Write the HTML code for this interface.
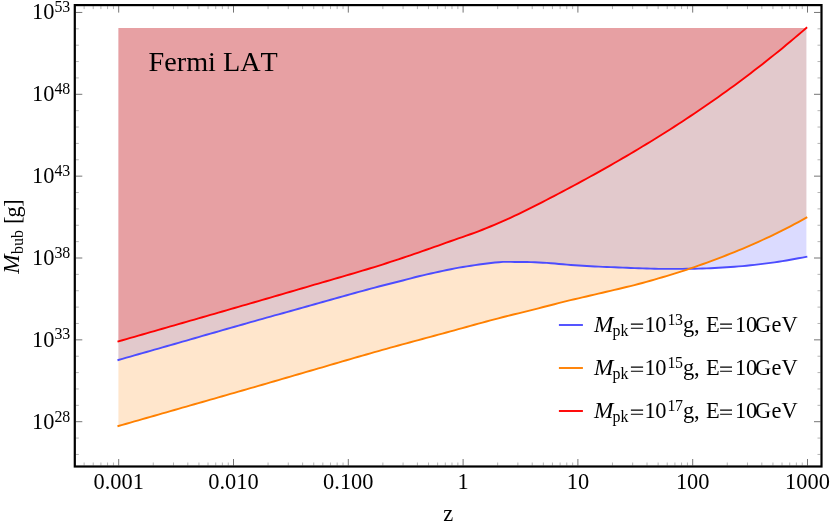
<!DOCTYPE html>
<html><head><meta charset="utf-8"><title>Fermi LAT</title>
<style>html,body{margin:0;padding:0;background:#fff;}body{width:830px;height:528px;overflow:hidden;}svg{display:block;will-change:transform;font-family:"Liberation Serif",serif;fill:#000;font-kerning:none;}</style></head><body>
<svg width="830" height="528" viewBox="0 0 830 528">
<rect width="830" height="528" fill="#fff"/>
<path d="M118.4 360.00L122.4 358.86L126.4 357.71L130.4 356.57L134.4 355.43L138.4 354.28L142.4 353.14L146.4 351.99L150.5 350.85L154.5 349.71L158.5 348.56L162.5 347.41L166.5 346.27L170.5 345.12L174.5 343.98L178.5 342.83L182.5 341.68L186.5 340.54L190.5 339.38L194.5 338.23L198.5 337.08L202.5 335.93L206.5 334.77L210.5 333.62L214.6 332.47L218.6 331.32L222.6 330.17L226.6 329.02L230.6 327.88L234.6 326.74L238.6 325.60L242.6 324.47L246.6 323.33L250.6 322.20L254.6 321.07L258.6 319.95L262.6 318.82L266.6 317.70L270.6 316.58L274.6 315.46L278.7 314.34L282.7 313.22L286.7 312.10L290.7 310.99L294.7 309.87L298.7 308.75L302.7 307.64L306.7 306.52L310.7 305.40L314.7 304.28L318.7 303.16L322.7 302.03L326.7 300.90L330.7 299.77L334.7 298.63L338.7 297.50L342.8 296.37L346.8 295.25L350.8 294.13L354.8 293.01L358.8 291.90L362.8 290.80L366.8 289.71L370.8 288.63L374.8 287.57L378.8 286.51L382.8 285.48L386.8 284.47L390.8 283.48L394.8 282.50L398.8 281.50L402.8 280.46L406.9 279.41L410.9 278.34L414.9 277.29L418.9 276.28L422.9 275.31L426.9 274.38L430.9 273.48L434.9 272.60L438.9 271.73L442.9 270.88L446.9 270.04L450.9 269.22L454.9 268.43L458.9 267.69L462.9 266.99L466.9 266.33L471 265.70L475 265.10L479 264.54L483 264.01L487 263.49L491 263.00L495 262.56L499 262.18L503 261.90L507 261.90L511 261.91L515 261.93L519 261.96L523 261.98L527 262.03L530.9 262.13L534.9 262.28L538.9 262.48L542.9 262.69L546.9 262.91L550.9 263.21L554.9 263.55L558.9 263.93L562.9 264.31L566.9 264.66L570.9 264.96L574.9 265.24L578.9 265.50L582.8 265.75L586.8 266.00L590.8 266.23L594.8 266.44L598.8 266.64L602.8 266.83L606.8 266.99L610.8 267.15L614.8 267.30L618.8 267.45L622.8 267.61L626.8 267.78L630.7 267.96L634.7 268.12L638.7 268.26L642.7 268.39L646.7 268.52L650.7 268.64L654.7 268.75L658.7 268.84L662.7 268.89L666.7 268.90L670.7 268.89L674.7 268.88L678.7 268.87L682.6 268.85L686.6 268.82L690.6 268.79L694.6 268.73L698.6 268.64L702.6 268.52L706.6 268.37L710.6 268.19L714.6 267.99L718.6 267.78L722.6 267.55L726.6 267.31L730.5 267.03L734.5 266.74L738.5 266.42L742.5 266.08L746.5 265.70L750.5 265.28L754.5 264.84L758.5 264.38L762.5 263.90L766.5 263.40L770.5 262.87L774.5 262.32L778.5 261.73L782.4 261.12L786.4 260.45L790.4 259.75L794.4 259.02L798.4 258.29L802.4 257.56L806.4 256.80 L806.4 28.0 L118.4 28.0 Z" fill="#4c4cff" fill-opacity="0.2"/>
<path d="M118.4 426.00L122.4 424.86L126.4 423.72L130.4 422.58L134.4 421.43L138.4 420.29L142.4 419.15L146.4 418.01L150.4 416.86L154.4 415.72L158.4 414.58L162.4 413.43L166.4 412.29L170.4 411.15L174.4 410.00L178.4 408.86L182.4 407.71L186.4 406.57L190.4 405.42L194.4 404.28L198.4 403.14L202.4 401.99L206.4 400.85L210.4 399.70L214.4 398.56L218.4 397.41L222.4 396.26L226.4 395.11L230.4 393.96L234.4 392.81L238.4 391.66L242.4 390.51L246.4 389.35L250.4 388.20L254.4 387.04L258.4 385.88L262.4 384.72L266.4 383.56L270.4 382.40L274.4 381.24L278.4 380.08L282.4 378.92L286.4 377.75L290.4 376.59L294.4 375.43L298.4 374.27L302.4 373.11L306.4 371.94L310.4 370.78L314.4 369.62L318.4 368.46L322.4 367.29L326.4 366.12L330.4 364.95L334.4 363.78L338.4 362.60L342.4 361.43L346.4 360.26L350.4 359.10L354.4 357.93L358.4 356.77L362.4 355.62L366.4 354.47L370.4 353.32L374.4 352.18L378.4 351.05L382.4 349.93L386.4 348.81L390.4 347.70L394.4 346.59L398.4 345.49L402.4 344.40L406.4 343.31L410.4 342.22L414.4 341.14L418.4 340.05L422.4 338.97L426.4 337.89L430.4 336.81L434.4 335.73L438.4 334.65L442.4 333.56L446.4 332.48L450.4 331.39L454.4 330.30L458.4 329.20L462.4 328.09L466.4 326.99L470.4 325.88L474.4 324.78L478.4 323.68L482.4 322.59L486.4 321.50L490.4 320.43L494.4 319.37L498.4 318.32L502.4 317.28L506.4 316.27L510.4 315.28L514.4 314.29L518.4 313.30L522.4 312.30L526.4 311.30L530.4 310.30L534.4 309.30L538.4 308.30L542.4 307.29L546.4 306.27L550.4 305.25L554.4 304.22L558.4 303.20L562.4 302.18L566.4 301.18L570.4 300.20L574.4 299.24L578.4 298.31L582.4 297.38L586.4 296.46L590.4 295.54L594.4 294.61L598.4 293.68L602.4 292.73L606.4 291.79L610.4 290.85L614.4 289.91L618.4 288.96L622.4 288.00L626.4 287.04L630.4 286.05L634.4 285.05L638.4 284.02L642.4 282.96L646.4 281.87L650.4 280.76L654.4 279.62L658.4 278.46L662.4 277.28L666.4 276.08L670.4 274.87L674.4 273.63L678.4 272.38L682.4 271.10L686.4 269.79L690.4 268.47L694.4 267.09L698.4 265.67L702.4 264.24L706.4 262.78L710.4 261.31L714.4 259.82L718.4 258.31L722.4 256.78L726.4 255.24L730.4 253.67L734.4 252.08L738.4 250.46L742.4 248.80L746.4 247.10L750.4 245.38L754.4 243.62L758.4 241.82L762.4 240.00L766.4 238.15L770.4 236.27L774.4 234.35L778.4 232.39L782.4 230.40L786.4 228.38L790.4 226.31L794.4 224.21L798.4 222.07L802.4 219.87L806.4 217.60 L806.4 28.0 L118.4 28.0 Z" fill="#ff8000" fill-opacity="0.2"/>
<path d="M118.4 341.40L122.4 340.25L126.4 339.10L130.4 337.96L134.4 336.81L138.4 335.66L142.4 334.51L146.4 333.36L150.4 332.21L154.4 331.06L158.4 329.91L162.4 328.76L166.4 327.61L170.4 326.46L174.4 325.31L178.4 324.16L182.4 323.01L186.4 321.86L190.4 320.71L194.4 319.56L198.4 318.40L202.4 317.25L206.4 316.10L210.4 314.95L214.4 313.80L218.4 312.64L222.4 311.49L226.4 310.33L230.4 309.18L234.4 308.02L238.4 306.86L242.4 305.70L246.4 304.54L250.4 303.38L254.4 302.22L258.4 301.06L262.4 299.90L266.4 298.74L270.4 297.57L274.4 296.41L278.4 295.24L282.4 294.08L286.4 292.91L290.4 291.74L294.4 290.57L298.4 289.40L302.4 288.23L306.4 287.06L310.4 285.88L314.4 284.71L318.4 283.54L322.4 282.38L326.4 281.22L330.4 280.06L334.4 278.90L338.4 277.74L342.4 276.57L346.4 275.41L350.4 274.23L354.4 273.05L358.4 271.87L362.4 270.68L366.4 269.47L370.4 268.26L374.4 267.04L378.4 265.80L382.4 264.55L386.4 263.27L390.4 261.97L394.4 260.66L398.4 259.33L402.4 258.00L406.4 256.66L410.4 255.30L414.4 253.93L418.4 252.55L422.4 251.17L426.4 249.77L430.4 248.36L434.4 246.95L438.4 245.53L442.4 244.10L446.4 242.68L450.4 241.26L454.4 239.85L458.4 238.46L462.4 237.07L466.4 235.67L470.4 234.26L474.4 232.81L478.4 231.31L482.4 229.76L486.4 228.16L490.4 226.50L494.4 224.81L498.4 223.09L502.4 221.35L506.4 219.58L510.4 217.78L514.4 215.94L518.4 214.06L522.4 212.14L526.4 210.18L530.4 208.18L534.4 206.16L538.4 204.10L542.4 202.04L546.4 199.97L550.4 197.89L554.4 195.81L558.4 193.72L562.4 191.62L566.4 189.50L570.4 187.37L574.4 185.22L578.4 183.07L582.4 180.90L586.4 178.72L590.4 176.52L594.4 174.32L598.4 172.09L602.4 169.85L606.4 167.60L610.4 165.32L614.4 163.03L618.4 160.73L622.4 158.41L626.4 156.07L630.4 153.71L634.4 151.34L638.4 148.96L642.4 146.56L646.4 144.15L650.4 141.72L654.4 139.27L658.4 136.80L662.4 134.30L666.4 131.77L670.4 129.21L674.4 126.64L678.4 124.04L682.4 121.43L686.4 118.80L690.4 116.15L694.4 113.48L698.4 110.79L702.4 108.06L706.4 105.32L710.4 102.55L714.4 99.75L718.4 96.93L722.4 94.09L726.4 91.23L730.4 88.35L734.4 85.43L738.4 82.49L742.4 79.51L746.4 76.49L750.4 73.43L754.4 70.35L758.4 67.25L762.4 64.13L766.4 60.98L770.4 57.82L774.4 54.63L778.4 51.40L782.4 48.14L786.4 44.84L790.4 41.50L794.4 38.14L798.4 34.76L802.4 31.35L806.4 27.90 L806.4 28.0 L118.4 28.0 Z" fill="#ff0000" fill-opacity="0.2"/>
<path d="M118.4 360.00L122.4 358.86L126.4 357.71L130.4 356.57L134.4 355.43L138.4 354.28L142.4 353.14L146.4 351.99L150.5 350.85L154.5 349.71L158.5 348.56L162.5 347.41L166.5 346.27L170.5 345.12L174.5 343.98L178.5 342.83L182.5 341.68L186.5 340.54L190.5 339.38L194.5 338.23L198.5 337.08L202.5 335.93L206.5 334.77L210.5 333.62L214.6 332.47L218.6 331.32L222.6 330.17L226.6 329.02L230.6 327.88L234.6 326.74L238.6 325.60L242.6 324.47L246.6 323.33L250.6 322.20L254.6 321.07L258.6 319.95L262.6 318.82L266.6 317.70L270.6 316.58L274.6 315.46L278.7 314.34L282.7 313.22L286.7 312.10L290.7 310.99L294.7 309.87L298.7 308.75L302.7 307.64L306.7 306.52L310.7 305.40L314.7 304.28L318.7 303.16L322.7 302.03L326.7 300.90L330.7 299.77L334.7 298.63L338.7 297.50L342.8 296.37L346.8 295.25L350.8 294.13L354.8 293.01L358.8 291.90L362.8 290.80L366.8 289.71L370.8 288.63L374.8 287.57L378.8 286.51L382.8 285.48L386.8 284.47L390.8 283.48L394.8 282.50L398.8 281.50L402.8 280.46L406.9 279.41L410.9 278.34L414.9 277.29L418.9 276.28L422.9 275.31L426.9 274.38L430.9 273.48L434.9 272.60L438.9 271.73L442.9 270.88L446.9 270.04L450.9 269.22L454.9 268.43L458.9 267.69L462.9 266.99L466.9 266.33L471 265.70L475 265.10L479 264.54L483 264.01L487 263.49L491 263.00L495 262.56L499 262.18L503 261.90L507 261.90L511 261.91L515 261.93L519 261.96L523 261.98L527 262.03L530.9 262.13L534.9 262.28L538.9 262.48L542.9 262.69L546.9 262.91L550.9 263.21L554.9 263.55L558.9 263.93L562.9 264.31L566.9 264.66L570.9 264.96L574.9 265.24L578.9 265.50L582.8 265.75L586.8 266.00L590.8 266.23L594.8 266.44L598.8 266.64L602.8 266.83L606.8 266.99L610.8 267.15L614.8 267.30L618.8 267.45L622.8 267.61L626.8 267.78L630.7 267.96L634.7 268.12L638.7 268.26L642.7 268.39L646.7 268.52L650.7 268.64L654.7 268.75L658.7 268.84L662.7 268.89L666.7 268.90L670.7 268.89L674.7 268.88L678.7 268.87L682.6 268.85L686.6 268.82L690.6 268.79L694.6 268.73L698.6 268.64L702.6 268.52L706.6 268.37L710.6 268.19L714.6 267.99L718.6 267.78L722.6 267.55L726.6 267.31L730.5 267.03L734.5 266.74L738.5 266.42L742.5 266.08L746.5 265.70L750.5 265.28L754.5 264.84L758.5 264.38L762.5 263.90L766.5 263.40L770.5 262.87L774.5 262.32L778.5 261.73L782.4 261.12L786.4 260.45L790.4 259.75L794.4 259.02L798.4 258.29L802.4 257.56L806.4 256.80" fill="none" stroke="#4c4cff" stroke-width="1.9" stroke-linejoin="round" stroke-linecap="square"/>
<path d="M118.4 426.00L122.4 424.86L126.4 423.72L130.4 422.58L134.4 421.43L138.4 420.29L142.4 419.15L146.4 418.01L150.4 416.86L154.4 415.72L158.4 414.58L162.4 413.43L166.4 412.29L170.4 411.15L174.4 410.00L178.4 408.86L182.4 407.71L186.4 406.57L190.4 405.42L194.4 404.28L198.4 403.14L202.4 401.99L206.4 400.85L210.4 399.70L214.4 398.56L218.4 397.41L222.4 396.26L226.4 395.11L230.4 393.96L234.4 392.81L238.4 391.66L242.4 390.51L246.4 389.35L250.4 388.20L254.4 387.04L258.4 385.88L262.4 384.72L266.4 383.56L270.4 382.40L274.4 381.24L278.4 380.08L282.4 378.92L286.4 377.75L290.4 376.59L294.4 375.43L298.4 374.27L302.4 373.11L306.4 371.94L310.4 370.78L314.4 369.62L318.4 368.46L322.4 367.29L326.4 366.12L330.4 364.95L334.4 363.78L338.4 362.60L342.4 361.43L346.4 360.26L350.4 359.10L354.4 357.93L358.4 356.77L362.4 355.62L366.4 354.47L370.4 353.32L374.4 352.18L378.4 351.05L382.4 349.93L386.4 348.81L390.4 347.70L394.4 346.59L398.4 345.49L402.4 344.40L406.4 343.31L410.4 342.22L414.4 341.14L418.4 340.05L422.4 338.97L426.4 337.89L430.4 336.81L434.4 335.73L438.4 334.65L442.4 333.56L446.4 332.48L450.4 331.39L454.4 330.30L458.4 329.20L462.4 328.09L466.4 326.99L470.4 325.88L474.4 324.78L478.4 323.68L482.4 322.59L486.4 321.50L490.4 320.43L494.4 319.37L498.4 318.32L502.4 317.28L506.4 316.27L510.4 315.28L514.4 314.29L518.4 313.30L522.4 312.30L526.4 311.30L530.4 310.30L534.4 309.30L538.4 308.30L542.4 307.29L546.4 306.27L550.4 305.25L554.4 304.22L558.4 303.20L562.4 302.18L566.4 301.18L570.4 300.20L574.4 299.24L578.4 298.31L582.4 297.38L586.4 296.46L590.4 295.54L594.4 294.61L598.4 293.68L602.4 292.73L606.4 291.79L610.4 290.85L614.4 289.91L618.4 288.96L622.4 288.00L626.4 287.04L630.4 286.05L634.4 285.05L638.4 284.02L642.4 282.96L646.4 281.87L650.4 280.76L654.4 279.62L658.4 278.46L662.4 277.28L666.4 276.08L670.4 274.87L674.4 273.63L678.4 272.38L682.4 271.10L686.4 269.79L690.4 268.47L694.4 267.09L698.4 265.67L702.4 264.24L706.4 262.78L710.4 261.31L714.4 259.82L718.4 258.31L722.4 256.78L726.4 255.24L730.4 253.67L734.4 252.08L738.4 250.46L742.4 248.80L746.4 247.10L750.4 245.38L754.4 243.62L758.4 241.82L762.4 240.00L766.4 238.15L770.4 236.27L774.4 234.35L778.4 232.39L782.4 230.40L786.4 228.38L790.4 226.31L794.4 224.21L798.4 222.07L802.4 219.87L806.4 217.60" fill="none" stroke="#ff8000" stroke-width="1.9" stroke-linejoin="round" stroke-linecap="square"/>
<path d="M118.4 341.40L122.4 340.25L126.4 339.10L130.4 337.96L134.4 336.81L138.4 335.66L142.4 334.51L146.4 333.36L150.4 332.21L154.4 331.06L158.4 329.91L162.4 328.76L166.4 327.61L170.4 326.46L174.4 325.31L178.4 324.16L182.4 323.01L186.4 321.86L190.4 320.71L194.4 319.56L198.4 318.40L202.4 317.25L206.4 316.10L210.4 314.95L214.4 313.80L218.4 312.64L222.4 311.49L226.4 310.33L230.4 309.18L234.4 308.02L238.4 306.86L242.4 305.70L246.4 304.54L250.4 303.38L254.4 302.22L258.4 301.06L262.4 299.90L266.4 298.74L270.4 297.57L274.4 296.41L278.4 295.24L282.4 294.08L286.4 292.91L290.4 291.74L294.4 290.57L298.4 289.40L302.4 288.23L306.4 287.06L310.4 285.88L314.4 284.71L318.4 283.54L322.4 282.38L326.4 281.22L330.4 280.06L334.4 278.90L338.4 277.74L342.4 276.57L346.4 275.41L350.4 274.23L354.4 273.05L358.4 271.87L362.4 270.68L366.4 269.47L370.4 268.26L374.4 267.04L378.4 265.80L382.4 264.55L386.4 263.27L390.4 261.97L394.4 260.66L398.4 259.33L402.4 258.00L406.4 256.66L410.4 255.30L414.4 253.93L418.4 252.55L422.4 251.17L426.4 249.77L430.4 248.36L434.4 246.95L438.4 245.53L442.4 244.10L446.4 242.68L450.4 241.26L454.4 239.85L458.4 238.46L462.4 237.07L466.4 235.67L470.4 234.26L474.4 232.81L478.4 231.31L482.4 229.76L486.4 228.16L490.4 226.50L494.4 224.81L498.4 223.09L502.4 221.35L506.4 219.58L510.4 217.78L514.4 215.94L518.4 214.06L522.4 212.14L526.4 210.18L530.4 208.18L534.4 206.16L538.4 204.10L542.4 202.04L546.4 199.97L550.4 197.89L554.4 195.81L558.4 193.72L562.4 191.62L566.4 189.50L570.4 187.37L574.4 185.22L578.4 183.07L582.4 180.90L586.4 178.72L590.4 176.52L594.4 174.32L598.4 172.09L602.4 169.85L606.4 167.60L610.4 165.32L614.4 163.03L618.4 160.73L622.4 158.41L626.4 156.07L630.4 153.71L634.4 151.34L638.4 148.96L642.4 146.56L646.4 144.15L650.4 141.72L654.4 139.27L658.4 136.80L662.4 134.30L666.4 131.77L670.4 129.21L674.4 126.64L678.4 124.04L682.4 121.43L686.4 118.80L690.4 116.15L694.4 113.48L698.4 110.79L702.4 108.06L706.4 105.32L710.4 102.55L714.4 99.75L718.4 96.93L722.4 94.09L726.4 91.23L730.4 88.35L734.4 85.43L738.4 82.49L742.4 79.51L746.4 76.49L750.4 73.43L754.4 70.35L758.4 67.25L762.4 64.13L766.4 60.98L770.4 57.82L774.4 54.63L778.4 51.40L782.4 48.14L786.4 44.84L790.4 41.50L794.4 38.14L798.4 34.76L802.4 31.35L806.4 27.90" fill="none" stroke="#ff0000" stroke-width="1.9" stroke-linejoin="round" stroke-linecap="square"/>
<path d="M118.70 465.5v-6.5M118.70 6.1v6.5M233.50 465.5v-6.5M233.50 6.1v6.5M348.30 465.5v-6.5M348.30 6.1v6.5M463.10 465.5v-6.5M463.10 6.1v6.5M577.90 465.5v-6.5M577.90 6.1v6.5M692.70 465.5v-6.5M692.70 6.1v6.5M807.50 465.5v-6.5M807.50 6.1v6.5M75.8 421.70h6.5M820.5 421.70h-6.5M75.8 339.85h6.5M820.5 339.85h-6.5M75.8 258.00h6.5M820.5 258.00h-6.5M75.8 176.15h6.5M820.5 176.15h-6.5M75.8 94.30h6.5M820.5 94.30h-6.5M75.8 12.45h6.5M820.5 12.45h-6.5" stroke="#000" stroke-width="0.55" fill="none"/>
<path d="M84.14 465.5v-3.0M84.14 6.1v3.0M93.23 465.5v-3.0M93.23 6.1v3.0M100.92 465.5v-3.0M100.92 6.1v3.0M107.57 465.5v-3.0M107.57 6.1v3.0M113.45 465.5v-3.0M113.45 6.1v3.0M153.26 465.5v-3.0M153.26 6.1v3.0M173.47 465.5v-3.0M173.47 6.1v3.0M187.82 465.5v-3.0M187.82 6.1v3.0M198.94 465.5v-3.0M198.94 6.1v3.0M208.03 465.5v-3.0M208.03 6.1v3.0M215.72 465.5v-3.0M215.72 6.1v3.0M222.37 465.5v-3.0M222.37 6.1v3.0M228.25 465.5v-3.0M228.25 6.1v3.0M268.06 465.5v-3.0M268.06 6.1v3.0M288.27 465.5v-3.0M288.27 6.1v3.0M302.62 465.5v-3.0M302.62 6.1v3.0M313.74 465.5v-3.0M313.74 6.1v3.0M322.83 465.5v-3.0M322.83 6.1v3.0M330.52 465.5v-3.0M330.52 6.1v3.0M337.17 465.5v-3.0M337.17 6.1v3.0M343.05 465.5v-3.0M343.05 6.1v3.0M382.86 465.5v-3.0M382.86 6.1v3.0M403.07 465.5v-3.0M403.07 6.1v3.0M417.42 465.5v-3.0M417.42 6.1v3.0M428.54 465.5v-3.0M428.54 6.1v3.0M437.63 465.5v-3.0M437.63 6.1v3.0M445.32 465.5v-3.0M445.32 6.1v3.0M451.97 465.5v-3.0M451.97 6.1v3.0M457.85 465.5v-3.0M457.85 6.1v3.0M497.66 465.5v-3.0M497.66 6.1v3.0M517.87 465.5v-3.0M517.87 6.1v3.0M532.22 465.5v-3.0M532.22 6.1v3.0M543.34 465.5v-3.0M543.34 6.1v3.0M552.43 465.5v-3.0M552.43 6.1v3.0M560.12 465.5v-3.0M560.12 6.1v3.0M566.77 465.5v-3.0M566.77 6.1v3.0M572.65 465.5v-3.0M572.65 6.1v3.0M612.46 465.5v-3.0M612.46 6.1v3.0M632.67 465.5v-3.0M632.67 6.1v3.0M647.02 465.5v-3.0M647.02 6.1v3.0M658.14 465.5v-3.0M658.14 6.1v3.0M667.23 465.5v-3.0M667.23 6.1v3.0M674.92 465.5v-3.0M674.92 6.1v3.0M681.57 465.5v-3.0M681.57 6.1v3.0M687.45 465.5v-3.0M687.45 6.1v3.0M727.26 465.5v-3.0M727.26 6.1v3.0M747.47 465.5v-3.0M747.47 6.1v3.0M761.82 465.5v-3.0M761.82 6.1v3.0M772.94 465.5v-3.0M772.94 6.1v3.0M782.03 465.5v-3.0M782.03 6.1v3.0M789.72 465.5v-3.0M789.72 6.1v3.0M796.37 465.5v-3.0M796.37 6.1v3.0M802.25 465.5v-3.0M802.25 6.1v3.0M75.8 454.44h3.0M820.5 454.44h-3.0M75.8 438.07h3.0M820.5 438.07h-3.0M75.8 405.33h3.0M820.5 405.33h-3.0M75.8 388.96h3.0M820.5 388.96h-3.0M75.8 372.59h3.0M820.5 372.59h-3.0M75.8 356.22h3.0M820.5 356.22h-3.0M75.8 323.48h3.0M820.5 323.48h-3.0M75.8 307.11h3.0M820.5 307.11h-3.0M75.8 290.74h3.0M820.5 290.74h-3.0M75.8 274.37h3.0M820.5 274.37h-3.0M75.8 241.63h3.0M820.5 241.63h-3.0M75.8 225.26h3.0M820.5 225.26h-3.0M75.8 208.89h3.0M820.5 208.89h-3.0M75.8 192.52h3.0M820.5 192.52h-3.0M75.8 159.78h3.0M820.5 159.78h-3.0M75.8 143.41h3.0M820.5 143.41h-3.0M75.8 127.04h3.0M820.5 127.04h-3.0M75.8 110.67h3.0M820.5 110.67h-3.0M75.8 77.93h3.0M820.5 77.93h-3.0M75.8 61.56h3.0M820.5 61.56h-3.0M75.8 45.19h3.0M820.5 45.19h-3.0M75.8 28.82h3.0M820.5 28.82h-3.0" stroke="#000" stroke-width="0.3" fill="none"/>
<rect x="74.8" y="5.1" width="746.7" height="461.4" fill="none" stroke="#000" stroke-width="2.2"/>
<g font-size="22.4" text-anchor="middle">
<text x="118.7" y="489.0">0.001</text>
<text x="233.5" y="489.0">0.010</text>
<text x="348.3" y="489.0">0.100</text>
<text x="463.1" y="489.0">1</text>
<text x="577.9" y="489.0">10</text>
<text x="692.7" y="489.0">100</text>
<text x="807.5" y="489.0">1000</text>
</g>
<g font-size="22.4" text-anchor="end">
<text x="70.3" y="429.1">10<tspan font-size="15.9" dy="-7.1">28</tspan></text>
<text x="70.3" y="346.5">10<tspan font-size="15.9" dy="-7.1">33</tspan></text>
<text x="70.3" y="264.6">10<tspan font-size="15.9" dy="-7.1">38</tspan></text>
<text x="70.3" y="182.8">10<tspan font-size="15.9" dy="-7.1">43</tspan></text>
<text x="70.3" y="100.9">10<tspan font-size="15.9" dy="-7.1">48</tspan></text>
<text x="70.3" y="19.0">10<tspan font-size="15.9" dy="-7.1">53</tspan></text>
</g>
<text x="448.3" y="520.8" font-size="22.4" text-anchor="middle">z</text>
<g transform="translate(19.1 272.7) rotate(-90)">
<text x="-1.1" y="0" font-size="23.3" font-style="italic">M</text>
<text x="18.7" y="3.8" font-size="15.9">bub</text>
<text x="48.8" y="0.4" font-size="22.4">[</text>
<text x="55.2" y="0.4" font-size="22.4">g</text>
<text x="65.9" y="0.4" font-size="22.4">]</text>
</g>
<text x="148.6" y="71.3" font-size="28.2">Fermi LAT</text>
<path d="M558.9 325.0H582.9" stroke="#4c4cff" stroke-width="1.9" fill="none"/>
<text x="593.9" y="331.6" font-size="23.3" font-style="italic">M</text>
<text x="612.6" y="336.0" font-size="15.9">pk</text>
<text x="644.4" y="331.6" font-size="22.4" letter-spacing="-0.4">10</text>
<text x="667.6" y="324.6" font-size="15.9" letter-spacing="-0.5">13</text>
<text x="682.9" y="331.6" font-size="22.4">g</text>
<text x="694.0" y="331.6" font-size="22.4">,</text>
<text x="706.0" y="331.6" font-size="22.4">E</text>
<text x="734.9" y="331.6" font-size="22.4" letter-spacing="-0.2">10</text>
<text x="755.1" y="331.6" font-size="22.4" letter-spacing="0.15">GeV</text>
<path d="M630.9 324.1H643.1M630.9 328.2H643.1M720.1 324.1H732.0M720.1 328.2H732.0" stroke="#000" stroke-width="1.15" fill="none"/>
<path d="M558.9 368.0H582.9" stroke="#ff8000" stroke-width="1.9" fill="none"/>
<text x="593.9" y="374.6" font-size="23.3" font-style="italic">M</text>
<text x="612.6" y="379.0" font-size="15.9">pk</text>
<text x="644.4" y="374.6" font-size="22.4" letter-spacing="-0.4">10</text>
<text x="667.6" y="367.6" font-size="15.9" letter-spacing="-0.5">15</text>
<text x="682.9" y="374.6" font-size="22.4">g</text>
<text x="694.0" y="374.6" font-size="22.4">,</text>
<text x="706.0" y="374.6" font-size="22.4">E</text>
<text x="734.9" y="374.6" font-size="22.4" letter-spacing="-0.2">10</text>
<text x="755.1" y="374.6" font-size="22.4" letter-spacing="0.15">GeV</text>
<path d="M630.9 367.1H643.1M630.9 371.2H643.1M720.1 367.1H732.0M720.1 371.2H732.0" stroke="#000" stroke-width="1.15" fill="none"/>
<path d="M558.9 411.0H582.9" stroke="#ff0000" stroke-width="1.9" fill="none"/>
<text x="593.9" y="417.6" font-size="23.3" font-style="italic">M</text>
<text x="612.6" y="422.0" font-size="15.9">pk</text>
<text x="644.4" y="417.6" font-size="22.4" letter-spacing="-0.4">10</text>
<text x="667.6" y="410.6" font-size="15.9" letter-spacing="-0.5">17</text>
<text x="682.9" y="417.6" font-size="22.4">g</text>
<text x="694.0" y="417.6" font-size="22.4">,</text>
<text x="706.0" y="417.6" font-size="22.4">E</text>
<text x="734.9" y="417.6" font-size="22.4" letter-spacing="-0.2">10</text>
<text x="755.1" y="417.6" font-size="22.4" letter-spacing="0.15">GeV</text>
<path d="M630.9 410.1H643.1M630.9 414.2H643.1M720.1 410.1H732.0M720.1 414.2H732.0" stroke="#000" stroke-width="1.15" fill="none"/>
</svg></body></html>
